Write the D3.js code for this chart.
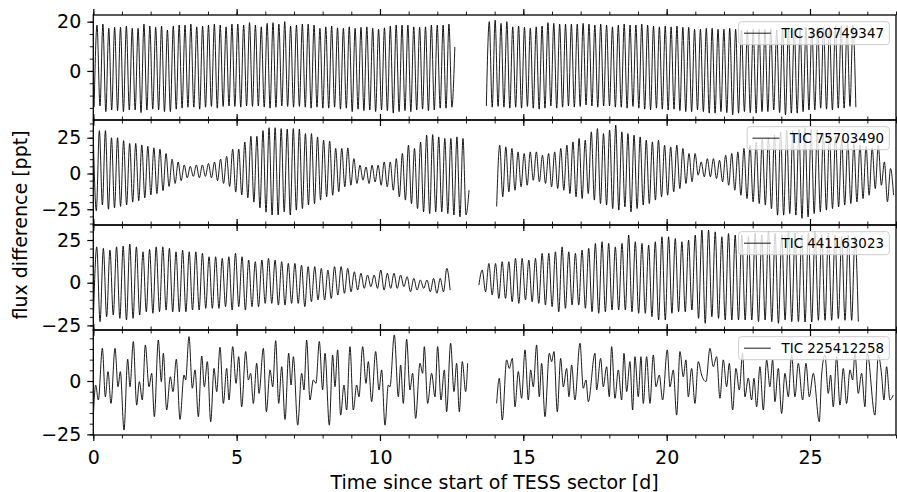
<!DOCTYPE html>
<html>
<head>
<meta charset="utf-8">
<script src="https://cdn.jsdelivr.net/npm/d3@7"></script>
<style>
    body { margin: 0; background: #fff; }
    svg { display: block; font-family: "DejaVu Sans", sans-serif; }
    .flux-line { fill: none; stroke: #000; stroke-width: 0.9; stroke-linejoin: round; }
    .spine { fill: none; stroke: #000; stroke-width: 1.3; }
    .axis path.domain { display: none; }
    .axis line { stroke: #000; }
    .axis.major line { stroke-width: 1.2; }
    .axis.minor line { stroke-width: 0.9; }
    .axis text { font-size: 19px; fill: #000; font-family: "DejaVu Sans", sans-serif; }
    .legend-box { fill: #fff; fill-opacity: 0.8; stroke: #cccccc; stroke-width: 1; }
    .legend-line { stroke: #000; stroke-width: 0.9; }
    .legend-text { font-size: 13.4px; fill: #000; }
    .axis-label { font-size: 19px; fill: #000; }
</style>
</head>
<body>
<svg id="chart" width="897" height="492"></svg>
<script>
// ---- data ----
// panels 1-3: flux at successive extrema, alternating, half a period apart

// TIC 360749347
const tic360StartA = 0.028;
const tic360StartB = 13.71;
const tic360Half = 0.1023;
const tic360LowsA = [-14.7, -14.2, -16.5, -15.8, -16.1, -16.5, -15.8, -15.8, -16.9, -15.8,
    -15.5, -15.8, -16.5, -16.5, -15.5, -15.1, -14.7, -14.7, -15.5, -14.7,
    -14.4, -15.1, -14.4, -14.2, -14.4, -14.7, -14.2, -14.4, -14.2, -14.7,
    -15.1, -14.7, -14.2, -14.4, -14.7, -14.4,
    -14.7, -15.1, -14.7, -15.1, -15.1, -14.7, -15.5, -15.1, -16.5, -15.5,
    -16.1, -15.8, -16.5, -15.8, -16.1, -17.1, -16.5, -16.1, -16.5, -15.8,
    -15.5, -16.1, -15.8, -15.1, -15.1, -14.7];
const tic360HighsA = [18.6, 19.0, 17.3, 17.7, 17.7, 18.2, 17.3, 17.3, 19.0, 18.2,
    17.7, 18.2, 16.6, 18.2, 18.6, 18.6, 19.0, 17.9, 18.2, 18.6,
    19.0, 18.6, 17.9, 19.0, 19.0, 18.6, 19.6, 18.6, 17.9, 19.3,
    19.6, 19.0, 20.0, 18.2, 18.6,
    19.0, 19.0, 18.6, 17.3, 17.9, 18.2, 17.5, 17.3, 17.9, 17.3,
    17.7, 17.9, 17.3, 16.9, 17.5, 18.2, 18.6, 18.6, 18.6, 17.9,
    17.7, 17.9, 18.6, 18.6, 18.6, 19.0, 9.7];
const tic360LowsB = [-14.2, -14.7, -14.4, -14.7, -15.1, -14.7, -15.1, -14.4, -15.1, -15.5,
    -15.1, -14.2, -15.1, -14.7, -14.2, -14.7, -14.4, -13.8, -14.2, -14.7,
    -14.2, -14.2, -14.7, -14.7, -15.1, -14.4, -15.1, -15.5, -15.8, -15.1,
    -15.5, -15.8, -15.5, -16.1, -16.5, -16.5, -15.8, -16.5, -17.1, -17.1,
    -16.5, -16.9, -17.8, -17.1, -16.5, -16.9, -17.1, -16.5, -16.5, -15.8,
    -16.9, -17.8, -17.1, -17.1, -16.5, -15.8, -15.8, -15.1, -15.5, -15.8,
    -15.1, -15.1, -14.4, -14.7];
const tic360HighsB = [20.0, 20.6, 19.3, 20.0, 17.9, 18.2, 17.7, 17.3, 17.9, 18.2,
    19.6, 19.3, 19.0, 19.0, 19.0, 19.0, 19.3, 19.0, 18.6, 19.0,
    18.6, 17.9, 18.6, 19.0, 18.6, 18.6, 19.0, 18.6, 18.2, 17.9,
    18.2, 17.9, 18.2, 17.7, 17.7, 16.9, 16.9, 17.3, 17.3, 16.9,
    16.9, 17.3, 16.9, 16.6, 16.6, 16.9, 16.9, 16.9, 16.9, 16.6,
    16.9, 16.9, 17.3, 17.3, 17.7, 17.9, 17.9, 17.7, 17.9, 18.2,
    18.2, 18.6, 18.6];

// TIC 75703490
const tic757StartA = 0.0;
const tic757StartB = 14.07;
const tic757HalfA = 0.1057;
const tic757HalfB = 0.1065;
const tic757HighsA = [25, 30, 30, 25, 25, 23, 21, 21, 20, 19,
    18, 17, 14, 10, 8, 6, 5, 6, 6, 7,
    8, 10, 12, 17, 17, 22, 26, 26, 30, 32, 32,
    31.4, 31, 31.4, 31, 27.9, 27.9, 25.6, 23.3, 22.6, 17.5,
    17.5, 17.9, 10.4, 5.8, 4.6, 5.8, 5.8, 8.1, 8.1, 10.4,
    14, 19.8, 17.5, 22, 26.8, 27.2, 25.6, 24.5, 24.5, 25.6, 24.5, -11.7];
const tic757LowsA = [-26, -22, -25, -24, -23, -22, -20, -19, -17, -15,
    -14, -12, -9, -7, -5, -3, -2, -3, -2, -3,
    -5, -7, -9, -13, -15, -17, -20, -24, -27, -29, -29,
    -26.8, -29, -25.6, -24.5, -22, -21, -18.6, -16.3, -15.2, -12.8,
    -9.3, -8.2, -7, -4.6, -7, -5.9, -8.2, -9.3, -11.7, -16.3,
    -18.6, -21, -24.5, -26.8, -28, -26.8, -26.8, -28, -29, -30.3, -29];
const tic757LowsB = [-23, -16.3, -12.8, -11.7, -9.3, -8.2, -4.7, -5.8, -7, -9.3,
    -10.5, -11.7, -14, -16.3, -17.5, -14, -18.6, -21, -22.1, -24.5,
    -25.6, -23.3, -26.8, -24.5, -22.1, -21, -18.6, -16.3, -15.2, -12.8,
    -10.5, -7, -5.8, -1.2, -2.3, -2.3, -3.5, -5.8, -8.2, -11.7,
    -15.2, -17.5, -19.8, -21, -22.1, -24.5, -29.1, -29.1, -28, -29.1,
    -31.4, -30.3, -28, -26.8, -25.6, -24.5, -23.3, -22.1, -21, -19.8,
    -17.5, -15.2, -10.5, -8.2, -19.8, -15];
const tic757HighsB = [19.8, 18.6, 17.5, 15.1, 14, 15.1, 15.1, 12.8, 14, 15.1,
    17.5, 19.8, 22.1, 24.5, 23.3, 29.1, 31.4, 27.9, 30.3, 33.8,
    29.1, 27.9, 26.8, 25.6, 23.3, 22.1, 23.3, 19.8, 18.6, 19.8,
    17.5, 14, 14, 8.1, 10.4, 10.4, 9.3, 12.8, 14, 15.1,
    17.5, 19.8, 22, 24, 25, 27, 29, 30, 30, 31,
    32, 31, 30, 28, 27, 26, 24, 23, 21, 20,
    19, 18, 19.8, 8.1, 3.5];

// TIC 441163023
const tic441StartA = 0.005;
const tic441StartB = 13.45;
const tic441HalfA = 0.1152;
const tic441HalfB = 0.1161;
const tic441LowsA = [-20, -22.8, -19.9, -18.9, -20.9, -21.8, -20.9, -18.9, -17, -17.9,
    -17, -16, -17, -17, -17, -16, -16, -15, -15, -15,
    -14, -16, -14, -16, -14, -14, -12.1, -12.1, -13.1, -13.1,
    -12.1, -12.1, -14, -11.1, -10.1, -10.1, -9.2, -7.2, -6.2, -5.3,
    -4.3, -3.3, -2.3, -3.3, -4.3, -3.3, -3.3, -2.3, -5.3, -4.3,
    -3.3, -5.3, -6.2, -5.3, -4.3];
const tic441HighsA = [21.0, 20.1, 19.1, 21.0, 21.4, 22.6, 21.0, 18.1, 19.5, 21.0,
    21.0, 20.1, 18.1, 19.1, 18.1, 18.1, 17.2, 15.2, 15.2, 14.2,
    15.2, 17.2, 15.2, 13.3, 12.3, 13.3, 14.2, 13.3, 12.3, 11.3,
    11.3, 10.3, 9.4, 9.4, 8.4, 7.4, 9.4, 9.4, 8.4, 6.4,
    5.5, 4.5, 4.5, 7.4, 5.5, 5.5, 4.5, 3.5, 2.5, 1.6,
    1.6, 2.5, 2.5, 8.4];
const tic441LowsB = [-1.4, -5.3, -7.2, -9.2, -9.2, -11.1, -12.1, -10.1, -11.1, -12.1,
    -13.1, -14, -17, -15, -13.1, -13.1, -15, -17, -17.9, -17,
    -16, -16, -16, -17, -17.9, -17.9, -19.9, -21.8, -21.8, -17.9,
    -17, -17, -16, -20.9, -23.8, -19.9, -20.9, -21.8, -21.8, -21.8,
    -21.8, -21.8, -22.8, -21.8, -22.8, -23.8, -21.8, -22.8, -22.8, -23,
    -23, -22, -22, -22, -21, -22, -22, -22.8];
const tic441HighsB = [7.4, 11.3, 11.3, 12.3, 12.3, 14.2, 14.2, 13.3, 14.2, 17.2,
    17.2, 18.1, 21, 18.1, 17.2, 19.1, 20.1, 23, 24, 23,
    21, 23, 27.9, 24, 23, 22, 24, 26.9, 26.9, 25.9,
    24, 25, 27.9, 30.8, 30.8, 29.8, 26.9, 28.8, 27.9, 28,
    27, 29, 28, 30, 29, 28, 30, 29, 28, 29,
    30, 28, 29, 28, 27, 28, 27];

// TIC 225412258: multiperiodic, so the extrema are listed with their times [d]
const tic225TimesA = [0.0, 0.083, 0.176, 0.316, 0.42, 0.513, 0.617, 0.757, 0.862, 0.943,
    1.071, 1.199, 1.28, 1.396, 1.513, 1.606, 1.71, 1.815, 1.943, 2.036,
    2.129, 2.268, 2.373, 2.443, 2.559, 2.687, 2.78, 2.896, 3.024, 3.164,
    3.222, 3.338, 3.455, 3.548, 3.664, 3.781, 3.874, 3.978, 4.095, 4.211,
    4.304, 4.42, 4.537, 4.653, 4.734, 4.862, 4.979, 5.072, 5.176, 5.316,
    5.409, 5.49, 5.583, 5.7, 5.781, 5.932, 6.037, 6.165, 6.258, 6.362,
    6.467, 6.572, 6.688, 6.816, 6.897, 6.979, 7.13,
    7.268, 7.349, 7.442, 7.558, 7.675, 7.768, 7.884, 8.0, 8.082, 8.233,
    8.349, 8.43, 8.523, 8.628, 8.744, 8.837, 8.954, 9.07, 9.186, 9.268,
    9.395, 9.512, 9.593, 9.709, 9.849, 9.965, 10.058, 10.174, 10.291, 10.349,
    10.5, 10.64, 10.721, 10.814, 10.93, 11.046, 11.139, 11.244, 11.395, 11.488,
    11.546, 11.663, 11.802, 11.918, 12.011, 12.128, 12.244, 12.325, 12.465, 12.581,
    12.674, 12.767, 12.872, 12.988, 13.058];
const tic225FluxA = [-16.7, -1.9, -8.9, 15.3, -7.4, 4.4, -10.5, 15.3, -2.7, 4.4,
    -23.0, 10.2, -2.7, 18.5, -11.3, -0.3, -8.9, 16.9, -2.7, 3.6,
    -16.7, 19.2, -0.3, 13.0, -13.6, 2.0, -5.0, 10.2, -18.0, 2.8,
    0.5, 20.8, -3.4, 5.2, -16.7, 11.7, -2.7, 9.1, -19.1, 5.9,
    -5.0, 15.8, -10.5, 5.9, -8.9, 16.1, -1.1, 11.4, -12.1, 13.8,
    0.5, 3.6, -10.5, 8.3, -5.8, 15.3, -14.4, 5.2, -2.7, 18.9,
    -10.5, 6.7, -18.0, 13.0, -1.9, 11.4, -20.7,
    3.6, -4.2, 19.2, -8.9, 0.5, -1.1, 18.5, -4.2, 13.0, -20.7,
    12.2, -2.7, 14.6, -16.0, -1.9, -13.6, 16.1, -13.6, -1.9, -7.4,
    16.1, -1.1, 9.1, -9.7, 13.8, -4.2, 5.2, -20.7, -1.9, -2.7,
    21.6, -7.4, 7.5, -10.5, 19.6, -4.2, 3.6, -17.5, 8.3, 3.6,
    16.1, -10.5, 3.6, -7.4, 16.1, -8.9, 5.2, -14.4, 17.7, -5.0,
    8.3, -14.4, 9.1, -5.0, 8.3];
const tic225TimesB = [14.069, 14.162, 14.267, 14.418, 14.511, 14.616, 14.709, 14.825, 14.941, 15.058,
    15.174, 15.255, 15.348, 15.464, 15.557, 15.639, 15.755, 15.906, 15.988, 16.069,
    16.185, 16.302, 16.395, 16.511, 16.592, 16.685, 16.801, 16.976, 17.092, 17.185,
    17.267, 17.499, 17.557,
    17.697, 17.79, 17.906, 17.999, 18.081, 18.197, 18.313, 18.429, 18.511, 18.604,
    18.72, 18.813, 18.894, 19.011, 19.104, 19.185, 19.301, 19.418, 19.534, 19.627,
    19.743, 19.859, 20.022, 20.115, 20.231, 20.348, 20.464, 20.58, 20.673, 20.755,
    20.871, 20.987, 21.103, 21.22, 21.371, 21.51, 21.627, 21.743, 21.859, 21.975,
    22.092, 22.185, 22.301, 22.417, 22.534, 22.65, 22.731, 22.847, 22.964, 23.045,
    23.138, 23.254, 23.371, 23.487, 23.603, 23.696, 23.777, 23.894, 24.01, 24.126,
    24.243, 24.359, 24.475, 24.591, 24.743, 24.859, 24.975, 25.115, 25.324, 25.405,
    25.521, 25.638, 25.719, 25.812, 25.928, 26.045, 26.161, 26.277, 26.394, 26.487,
    26.568, 26.684, 26.8, 26.917, 26.998, 27.265, 27.382, 27.498, 27.579, 27.672,
    27.789, 27.905];
const tic225FluxB = [-10.5, 1.3, -18.3, 9.9, 5.9, 10.6, -12.1, 4.4, -8.1, 14.6,
    -8.9, 5.2, -2.7, 16.9, -7.4, 8.3, -16.7, 13.0, 9.1, 13.8,
    -14.4, 10.6, -2.7, 5.9, -7.4, 7.5, -8.9, 17.7, -3.4, 0.5,
    -9.7, 13.0, -4.2,
    10.6, -2.7, 6.7, -7.4, 16.1, -8.1, 5.2, -8.9, 13.0, -5.0,
    9.1, -13.6, 11.4, -7.4, 11.4, -10.5, 11.4, -10.5, 12.2, -2.7,
    2.8, -8.9, 14.6, -2.7, 5.2, -16.0, 13.8, 2.0, 9.9, -7.4,
    5.9, -10.5, 9.1, 2.8, -0.3, 15.3, 6.7, 11.4, -8.1, 9.9,
    -2.7, 8.3, -13.6, 5.9, -4.2, 13.0, -7.4, 1.3, -8.9, 1.3,
    -12.1, 6.7, -13.6, 9.9, -2.7, 9.9, -9.7, 5.9, -15.2, 3.6,
    -7.4, 12.2, -7.4, 8.3, -8.9, 8.3, -7.4, 3.6, -19.1, 2.8,
    12.2, -5.8, 2.8, -12.1, 11.4, -11.3, 5.9, -10.5, 5.2, 0.5,
    13.0, -5.8, 3.6, -12.1, 13.0, -16.0, 12.2, 2.8, -8.9, 6.7,
    -8.9, -6.6];

const panelLabels = ['TIC 360749347', 'TIC 75703490', 'TIC 441163023', 'TIC 225412258'];
const yLimits = [[-19.9, 22.7], [-36, 37.4], [-27.7, 33.8], [-25.3, 23.9]];
const yMajorTicks = [[0, 20], [-25, 0, 25], [-25, 0, 25], [-25, 0]];
const xLimits = [0, 28];
const xMajorTicks = [0, 5, 10, 15, 20, 25];


// interleave two lists of extrema, each point half a period after the previous one
function alternate(start, half, first, second) {
    let pts = [];
    let n = Math.max(first.length, second.length);
    for (let i = 0; i < n; i++) {
        if (i < first.length) pts.push([start + pts.length * half, first[i]]);
        if (i < second.length) pts.push([start + pts.length * half, second[i]]);
    }
    return pts;
}

const segments = [
    [alternate(tic360StartA, tic360Half, tic360LowsA, tic360HighsA),
     alternate(tic360StartB, tic360Half, tic360LowsB, tic360HighsB)],
    [alternate(tic757StartA, tic757HalfA, tic757HighsA, tic757LowsA),
     alternate(tic757StartB, tic757HalfB, tic757LowsB, tic757HighsB)],
    [alternate(tic441StartA, tic441HalfA, tic441LowsA, tic441HighsA),
     alternate(tic441StartB, tic441HalfB, tic441LowsB, tic441HighsB)],
    [d3.zip(tic225TimesA, tic225FluxA), d3.zip(tic225TimesB, tic225FluxB)]
];


function LightCurvePanel() {
    let top = 0;
    let height = 105;
    let xScale = null;
    let yDomain = [-1, 1];
    let yMajor = [];
    let label = '';
    let showXLabels = false;

    function chart(selection) {
        selection.each(function(segs) {
            let gMain = d3.select(this);
            let [x0, x1] = xScale.range();
            let yScale = d3.scaleLinear().domain(yDomain).range([top + height, top]);
            let clipId = 'clip-' + label.replace(/\s/g, '');

            gMain.append('clipPath').attr('id', clipId)
                .append('rect')
                .attr('x', x0).attr('y', top)
                .attr('width', x1 - x0).attr('height', height);

            let line = d3.line()
                .x((d) => xScale(d[0]))
                .y((d) => yScale(d[1]))
                .curve(d3.curveMonotoneX);

            gMain.append('g')
                .attr('clip-path', `url(#${clipId})`)
                .selectAll('path')
                .data(segs)
                .enter()
                .append('path')
                .classed('flux-line', true)
                .attr('d', line);

            // ticks: minor every day / every 5 ppt
            let xMinor = d3.range(xLimits[0], xLimits[1] + 1, 1);
            let yMinor = d3.range(Math.ceil(yDomain[0] / 5) * 5, yDomain[1], 5);

            gMain.append('g').attr('class', 'axis minor')
                .attr('transform', `translate(0,${top})`)
                .call(d3.axisTop(xScale).tickValues(xMinor).tickSize(3.5).tickFormat(''));
            gMain.append('g').attr('class', 'axis major')
                .attr('transform', `translate(0,${top})`)
                .call(d3.axisTop(xScale).tickValues(xMajorTicks).tickSize(6).tickFormat(''));
            gMain.append('g').attr('class', 'axis minor')
                .attr('transform', `translate(0,${top + height})`)
                .call(d3.axisBottom(xScale).tickValues(xMinor).tickSize(3.5).tickFormat(''));
            let xb = d3.axisBottom(xScale).tickValues(xMajorTicks).tickSize(6).tickPadding(9.5);
            if (!showXLabels) xb.tickFormat('');
            gMain.append('g').attr('class', 'axis major')
                .attr('transform', `translate(0,${top + height})`)
                .call(xb);

            gMain.append('g').attr('class', 'axis minor')
                .attr('transform', `translate(${x0},0)`)
                .call(d3.axisLeft(yScale).tickValues(yMinor).tickSize(3.5).tickFormat(''));
            gMain.append('g').attr('class', 'axis major')
                .attr('transform', `translate(${x0},0)`)
                .call(d3.axisLeft(yScale).tickValues(yMajor).tickSize(6).tickPadding(6));

            gMain.append('rect')
                .classed('spine', true)
                .attr('x', x0).attr('y', top)
                .attr('width', x1 - x0).attr('height', height);

            // legend, upper right
            let fs = 13.4;
            let legend = gMain.append('g');
            let box = legend.append('rect').classed('legend-box', true);
            let text = legend.append('text').classed('legend-text', true).text(label);
            let tw = text.node().getComputedTextLength();
            let boxW = tw + fs * (0.4 * 2 + 2.0 + 0.8);
            let boxH = 23;
            let bx = x1 - 0.5 * fs - boxW;
            let by = top + 0.5 * fs;
            box.attr('x', bx).attr('y', by)
                .attr('width', boxW).attr('height', boxH)
                .attr('rx', 3);
            legend.append('line').classed('legend-line', true)
                .attr('x1', bx + 0.4 * fs).attr('x2', bx + 2.4 * fs)
                .attr('y1', by + boxH / 2).attr('y2', by + boxH / 2);
            text.attr('x', bx + 3.2 * fs).attr('y', by + 16.4);
        });
    }

    chart.top = function(_) {
        if (!arguments.length) return top;
        top = _;
        return chart;
    };

    chart.height = function(_) {
        if (!arguments.length) return height;
        height = _;
        return chart;
    };

    chart.xScale = function(_) {
        if (!arguments.length) return xScale;
        xScale = _;
        return chart;
    };

    chart.yDomain = function(_) {
        if (!arguments.length) return yDomain;
        yDomain = _;
        return chart;
    };

    chart.yMajor = function(_) {
        if (!arguments.length) return yMajor;
        yMajor = _;
        return chart;
    };

    chart.label = function(_) {
        if (!arguments.length) return label;
        label = _;
        return chart;
    };

    chart.showXLabels = function(_) {
        if (!arguments.length) return showXLabels;
        showXLabels = _;
        return chart;
    };

    return chart;
}


const svg = d3.select('#chart');
const xScale = d3.scaleLinear().domain(xLimits).range([93.3, 896]);
const panelTop = 15;
const panelHeight = 105;

segments.forEach((segs, i) => {
    let panel = LightCurvePanel()
        .top(panelTop + i * panelHeight)
        .height(panelHeight)
        .xScale(xScale)
        .yDomain(yLimits[i])
        .yMajor(yMajorTicks[i])
        .label(panelLabels[i])
        .showXLabels(i === segments.length - 1);

    svg.append('g').datum(segs).call(panel);
});

svg.append('text')
    .classed('axis-label', true)
    .attr('x', (xScale.range()[0] + xScale.range()[1]) / 2)
    .attr('y', 489)
    .attr('text-anchor', 'middle')
    .text('Time since start of TESS sector [d]');

svg.append('text')
    .classed('axis-label', true)
    .attr('transform', `translate(27,${panelTop + 2 * panelHeight}) rotate(-90)`)
    .attr('text-anchor', 'middle')
    .text('flux difference [ppt]');
</script>
</body>
</html>
